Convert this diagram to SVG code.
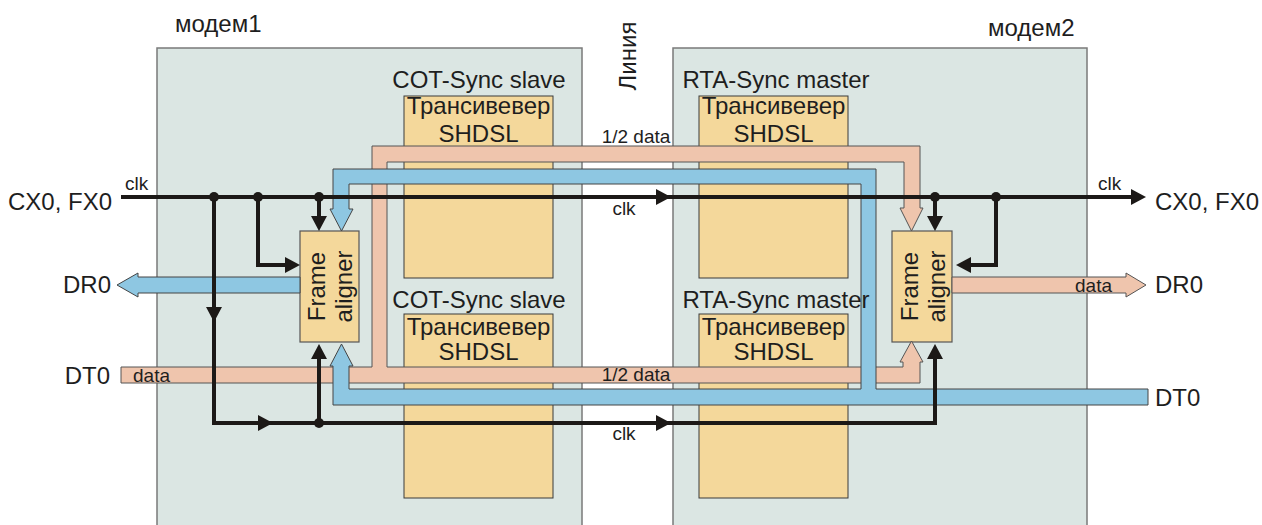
<svg xmlns="http://www.w3.org/2000/svg" xmlns:xlink="http://www.w3.org/1999/xlink" width="1262" height="525" viewBox="0 0 1262 525">
<style>
.modem{fill:#dbe6e3;stroke:#7a7a7a;stroke-width:1.5}
.trx{fill:#f4d89b;stroke:#3a3a3a;stroke-width:1}
.fa{fill:#f4d89b;stroke:#555;stroke-width:1.2}
.pink{fill:#efc5ad;stroke:#555;stroke-width:1}
.blue{fill:#8ec7e2;stroke:#444;stroke-width:1}
.clk{fill:none;stroke:#1c1917;stroke-width:4;stroke-linejoin:miter}
.dot{fill:#1c1917}
.big{font-family:"Liberation Sans",Arial,sans-serif;font-size:24px;fill:#1e1e1e}
.small{font-family:"Liberation Sans",Arial,sans-serif;font-size:19px;fill:#1e1e1e}
.mid{text-anchor:middle}
.end{text-anchor:end}
</style>
<defs>
<polygon id="ah" points="0,0 -15,-8 -15,8" fill="#1c1917"/>
</defs>
<rect width="1262" height="525" fill="#ffffff"/>

<g id="modem1">
<rect class="modem" x="157" y="48" width="425" height="500"/>
<text class="big" x="175" y="32">модем1</text>
</g>
<g id="modem2">
<rect class="modem" x="673" y="48" width="414" height="500"/>
<text class="big" x="988" y="36">модем2</text>
</g>
<g id="line-label">
<text class="big mid" transform="translate(636,56) rotate(-90)">Линия</text>
</g>

<g id="trx-cot-top">
<rect class="trx" x="404" y="96" width="149" height="182"/>
<text class="big mid" x="478.5" y="114">Трансивевер</text>
<text class="big mid" x="478.5" y="142">SHDSL</text>
</g>
<g id="trx-cot-bottom">
<rect class="trx" x="404" y="314" width="149" height="184"/>
<text class="big mid" x="478.5" y="335">Трансивевер</text>
<text class="big mid" x="478.5" y="360">SHDSL</text>
</g>
<g id="trx-rta-top">
<rect class="trx" x="699" y="96" width="149" height="182"/>
<text class="big mid" x="773.5" y="114">Трансивевер</text>
<text class="big mid" x="773.5" y="142">SHDSL</text>
</g>
<g id="trx-rta-bottom">
<rect class="trx" x="699" y="314" width="149" height="184"/>
<text class="big mid" x="773.5" y="335">Трансивевер</text>
<text class="big mid" x="773.5" y="360">SHDSL</text>
</g>

<g id="frame-aligner-1">
<rect class="fa" x="300" y="231" width="59" height="111"/>
<text class="big mid" transform="translate(329.5,286.5) rotate(-90)"><tspan x="0" y="-4.5">Frame</tspan><tspan x="0" y="22.5">aligner</tspan></text>
</g>
<g id="frame-aligner-2">
<rect class="fa" x="892" y="231" width="60" height="111"/>
<text class="big mid" transform="translate(922,286.5) rotate(-90)"><tspan x="0" y="-4.5">Frame</tspan><tspan x="0" y="22.5">aligner</tspan></text>
</g>

<g id="connectors">
<polygon class="pink" points="121,367 372,367 372,146 920,146 920,208 923,208 911.5,231 900,208 904,208 904,162 387,162 387,367 903,367 903,362 900,362 911.5,341 923,362 920,362 920,383 121,383"/>
<polygon class="blue" points="1148,389 1148,405 333,405 333,366 330,366 341.5,344 353,366 349,366 349,389 861,389 861,184 349,184 349,209 353,209 341.5,231 330,209 333,209 333,169 876,169 876,389"/>
<polygon class="blue" points="300,277 138,277 138,273 117,285 138,297 138,293 300,293"/>
<polygon class="pink" points="952,277 1126,277 1126,273 1146,285 1126,297 1126,293 952,293"/>

<path class="clk" d="M121,197 H1131"/>
<path class="clk" d="M214,197 V423 H935 V358"/>
<path class="clk" d="M258,197 V265 H286"/>
<path class="clk" d="M319,197 V218"/>
<path class="clk" d="M319,423 V358"/>
<path class="clk" d="M935,197 V218"/>
<path class="clk" d="M996,197 V265 H970"/>

<use xlink:href="#ah" transform="translate(671,197)"/>
<use xlink:href="#ah" transform="translate(1146,197)"/>
<use xlink:href="#ah" transform="translate(319,231) rotate(90)"/>
<use xlink:href="#ah" transform="translate(300,265)"/>
<use xlink:href="#ah" transform="translate(214,322) rotate(90)"/>
<use xlink:href="#ah" transform="translate(273,423)"/>
<use xlink:href="#ah" transform="translate(671,423)"/>
<use xlink:href="#ah" transform="translate(319,344) rotate(-90)"/>
<use xlink:href="#ah" transform="translate(935,231) rotate(90)"/>
<use xlink:href="#ah" transform="translate(956,265) rotate(180)"/>
<use xlink:href="#ah" transform="translate(935,344) rotate(-90)"/>

<circle class="dot" cx="214" cy="197" r="5"/>
<circle class="dot" cx="258" cy="197" r="5"/>
<circle class="dot" cx="319" cy="197" r="5"/>
<circle class="dot" cx="935" cy="197" r="5"/>
<circle class="dot" cx="996" cy="197" r="5"/>
<circle class="dot" cx="319" cy="423" r="5"/>

<text class="small" x="125" y="190">clk</text>
<text class="small" x="1098" y="190">clk</text>
<text class="small mid" x="624" y="215">clk</text>
<text class="small mid" x="624" y="440">clk</text>
<text class="small mid" x="636" y="143">1/2 data</text>
<text class="small mid" x="636" y="381">1/2 data</text>
<text class="small" x="133" y="382">data</text>
<text class="small" x="1075" y="292">data</text>
</g>

<g id="sync-titles">
<text class="big mid" x="479" y="88">COT-Sync slave</text>
<text class="big mid" x="479" y="308">COT-Sync slave</text>
<text class="big mid" x="776" y="88">RTA-Sync master</text>
<text class="big mid" x="776" y="308">RTA-Sync master</text>
</g>

<g id="ports">
<text class="big end" x="112" y="210">CX0, FX0</text>
<text class="big end" x="111" y="293">DR0</text>
<text class="big end" x="110" y="384">DT0</text>
<text class="big" x="1155" y="210">CX0, FX0</text>
<text class="big" x="1155" y="293">DR0</text>
<text class="big" x="1155" y="406">DT0</text>
</g>
</svg>
